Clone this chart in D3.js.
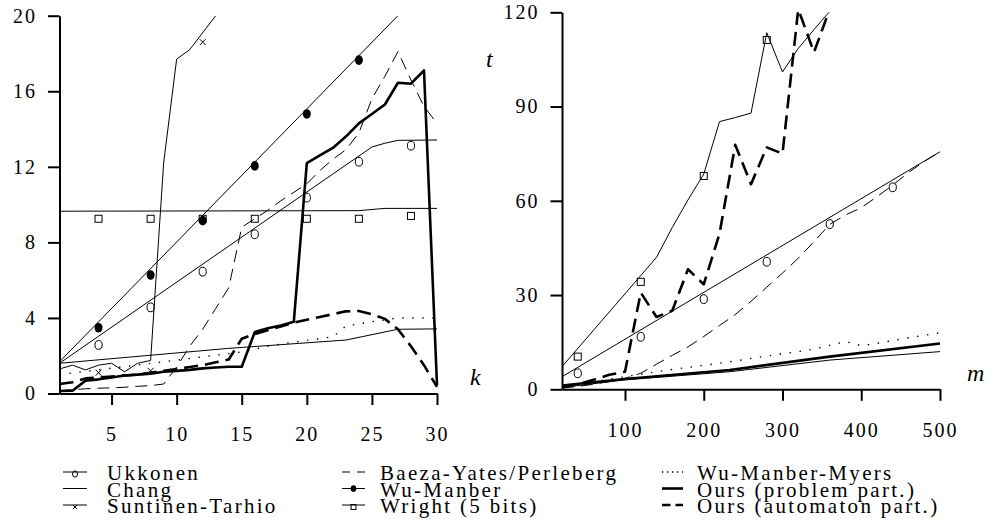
<!DOCTYPE html>
<html>
<head>
<meta charset="utf-8">
<script src="https://cdn.jsdelivr.net/npm/d3@7/dist/d3.min.js"></script>
<style>
  html,body{margin:0;padding:0;background:#fff;}
  svg{display:block;}
</style>
</head>
<body>
<svg id="chart" width="989" height="529"></svg>
<script>
// ---------------- tick labels ----------------
const kTicks = [5, 10, 15, 20, 25, 30];
const tTicksLeft = [0, 4, 8, 12, 16, 20];
const mTicks = [100, 200, 300, 400, 500];
const tTicksRight = [0, 30, 60, 90, 120];

// ---------------- left panel: t versus k ----------------
const kAll = [1,2,3,4,5,6,7,8,9,10,11,12,13,14,15,16,17,18,19,20,21,22,23,24,25,26,27,28,29,30];
const problemLeftT   = [0.13,0.15,0.68,0.75,0.85,0.95,1.0,1.05,1.15,1.2,1.25,1.33,1.38,1.42,1.42,3.25,3.45,3.6,3.8,12.2,12.6,13.0,13.6,14.3,14.8,15.3,16.45,16.4,17.1,0.45];
const automatonLeftT = [0.5,0.6,0.8,0.85,0.9,0.95,1.0,1.1,1.2,1.3,1.4,1.5,1.65,1.8,2.9,3.15,3.35,3.55,3.75,3.9,4.05,4.2,4.35,4.37,4.2,3.95,3.4,2.5,1.5,0.35];
const baezaLeftT     = [0.15,0.2,0.25,0.28,0.3,0.33,0.38,0.42,0.5,1.4,2.5,3.4,4.5,5.6,8.8,9.25,9.7,10.2,10.65,11.1,11.8,12.4,12.9,13.8,15.6,16.8,18.1,16.6,15.2,14.3];

const ukkonenLeftK = [1, 25, 26, 27, 30];
const ukkonenLeftT = [1.6, 13.05, 13.25, 13.4, 13.42];
const changLeftK = [1, 14, 23, 27, 30];
const changLeftT = [1.6, 2.39, 2.83, 3.4, 3.42];
const suntinenLeftK = [1,2,3,4,5,6,7,8,9,10,11,13];
const suntinenLeftT = [1.3,1.5,1.25,1.5,1.6,1.15,1.6,1.75,12.2,17.7,18.2,20.0];
const wuManberLeftK = [1, 27];
const wuManberLeftT = [1.68, 20.0];
const wrightLeftK = [1, 24, 26, 30];
const wrightLeftT = [9.65, 9.68, 9.8, 9.8];
const wmmLeftK = [1, 9, 15, 17, 19, 22, 23, 25, 27, 30];
const wmmLeftT = [1.0, 1.68, 2.2, 2.5, 2.72, 3.0, 3.57, 3.8, 4.0, 4.0];

const markLeftK = [4, 8, 12, 16, 20, 24, 28];
const ukkonenLeftMarks = [2.57, 4.56, 6.45, 8.43, 10.37, 12.27, 13.12];
const wuManberLeftMarkK = [4, 8, 12, 16, 20, 24];
const wuManberLeftMarks = [3.48, 6.27, 9.15, 12.05, 14.8, 17.65];
const wrightLeftMarks = [9.25, 9.25, 9.25, 9.25, 9.25, 9.25, 9.4];
const suntinenLeftMarkK = [4, 8, 12];
const suntinenLeftMarks = [1.1, 1.2, 18.6];

// ---------------- right panel: t versus m ----------------
const mAll = [20,40,60,80,100,120,140,160,180,200,220,240,260,280,300,320,340,360,380,400,420,440,460,480,500];
const baezaRightT = [0.4,0.9,1.6,2.5,3.5,5.1,8.0,10.8,13.5,16.8,20.3,23.8,28.0,32.5,37.0,41.7,47.0,52.5,55.5,57.8,61.3,65.0,69.0,72.5,75.6];
const wmmRightT   = [1.0,1.8,2.5,3.2,4.0,4.8,5.6,6.3,7.0,7.6,8.3,9.0,9.8,10.6,11.3,12.0,12.8,14.0,15.2,13.9,14.6,15.5,16.4,17.2,18.0];

const automatonRightM = [20,40,60,80,100,120,140,160,180,200,220,240,260,280,300,320,340,360];
const automatonRightT = [0.6,1.6,3.0,4.6,5.6,30.8,23.0,25.0,38.2,33.4,49.5,77.8,65.3,77.0,75.0,121.0,107.3,121.0];
const wrightRightM = [20,140,160,180,200,220,240,260,280,300,320,340,360];
const wrightRightT = [7.2,42.0,51.5,60.3,68.5,85.2,86.5,87.9,113.5,101.0,108.5,114.5,120.3];
const ukkonenRightM = [20, 500];
const ukkonenRightT = [4.0, 75.6];
const changRightM = [20, 100, 233, 360, 500];
const changRightT = [0.6, 3.0, 5.6, 9.3, 12.0];
const problemRightM = [20, 100, 233, 360, 500];
const problemRightT = [1.2, 3.3, 6.15, 10.4, 14.6];

const ukkonenRightMarkM = [40, 120, 200, 280, 360, 440];
const ukkonenRightMarks = [5.1, 16.7, 28.7, 40.6, 52.6, 64.3];
const wrightRightMarkM = [40, 120, 200, 280];
const wrightRightMarks = [10.4, 34.2, 67.9, 111.2];

// ---------------- legend ----------------
const legendNames = ["Ukkonen","Chang","Suntinen-Tarhio",
                     "Baeza-Yates/Perleberg","Wu-Manber","Wright (5 bits)",
                     "Wu-Manber-Myers","Ours (problem part.)","Ours (automaton part.)"];

// ================= drawing =================
const FONT = "'Liberation Serif', 'DejaVu Serif', 'Times New Roman', serif";
const svg = d3.select("#chart").style("font-family", FONT);
const zip = (a, b) => a.map((v, i) => [v, b[i]]);

const lineStyles = {
  thin:      {w: 1,   dash: null},
  dashThin:  {w: 1,   dash: "12,7"},
  dotted:    {w: 1.4, dash: "1.4,8.6"},
  thick:     {w: 2.6, dash: null},
  dashThick: {w: 2.6, dash: "14,7"}
};
const legendDash = {dashThin: "8,7", dotted: "1.3,3.7", dashThick: "8.5,5"};

function marker(g, type, cx, cy, s) {
  if (type === "circle") {
    g.append("ellipse").attr("cx", cx).attr("cy", cy).attr("rx", 3.6*s).attr("ry", 4.4*s)
      .attr("fill", "none").attr("stroke", "#000").attr("stroke-width", 1);
  } else if (type === "dot") {
    g.append("ellipse").attr("cx", cx).attr("cy", cy).attr("rx", 4*s).attr("ry", 4.8*s)
      .attr("fill", "#000");
  } else if (type === "square") {
    const h = 3.5*s;
    g.append("rect").attr("x", cx-h).attr("y", cy-h).attr("width", 2*h).attr("height", 2*h)
      .attr("fill", "none").attr("stroke", "#000").attr("stroke-width", 1);
  } else if (type === "cross") {
    const h = 3*s;
    g.append("path").attr("d", `M${cx-h},${cy-h}L${cx+h},${cy+h}M${cx-h},${cy+h}L${cx+h},${cy-h}`)
      .attr("stroke", "#000").attr("stroke-width", 1).attr("fill", "none");
  }
}

function panel(opt) {
  const {x, y, xTicks, yTicks, series, marks, id} = opt;
  const g = svg.append("g");
  const [x0, x1] = x.range(), [y0, y1] = y.range();

  g.append("clipPath").attr("id", id).append("rect")
    .attr("x", x0).attr("y", y1).attr("width", x1 - x0 + 2).attr("height", y0 - y1);
  const plot = g.append("g").attr("clip-path", `url(#${id})`);
  const line = d3.line().x(d => x(d[0])).y(d => y(d[1]));

  series.forEach(s => {
    const st = lineStyles[s.style];
    plot.append("path").datum(zip(s.xs, s.ys)).attr("d", line)
      .attr("fill", "none").attr("stroke", "#000").attr("stroke-width", st.w)
      .attr("stroke-linejoin", "round")
      .attr("stroke-dasharray", st.dash);
  });
  marks.forEach(m => {
    zip(m.xs, m.ys).forEach(d => marker(plot, m.type, x(d[0]), y(d[1]), 1));
  });

  const xa = g.append("g").attr("transform", `translate(0,${y0})`)
    .call(d3.axisBottom(x).tickValues(xTicks).tickSize(11.5).tickSizeOuter(0).tickPadding(22));
  const ya = g.append("g").attr("transform", `translate(${x0},0)`)
    .call(d3.axisLeft(y).tickValues(yTicks).tickSize(11.5).tickSizeOuter(0).tickPadding(11));
  [xa, ya].forEach(a => {
    a.attr("font-family", FONT).attr("font-size", 20);
    a.selectAll("path.domain").attr("stroke-width", 2);
    a.selectAll(".tick line").attr("stroke-width", 2);
    a.selectAll(".tick text").attr("fill", "#000")
      .style("font-family", FONT).style("font-size", "20px").style("letter-spacing", "2px");
  });
  return g;
}

// Left panel
const xL = d3.scaleLinear().domain([1, 30]).range([59.5, 437]);
const yL = d3.scaleLinear().domain([0, 20]).range([393.5, 15.7]);
panel({
  id: "clipL", x: xL, y: yL, xTicks: kTicks, yTicks: tTicksLeft,
  series: [
    {xs: wrightLeftK, ys: wrightLeftT, style: "thin"},
    {xs: changLeftK, ys: changLeftT, style: "thin"},
    {xs: ukkonenLeftK, ys: ukkonenLeftT, style: "thin"},
    {xs: wuManberLeftK, ys: wuManberLeftT, style: "thin"},
    {xs: suntinenLeftK, ys: suntinenLeftT, style: "thin"},
    {xs: wmmLeftK, ys: wmmLeftT, style: "dotted"},
    {xs: kAll, ys: baezaLeftT, style: "dashThin"},
    {xs: kAll, ys: automatonLeftT, style: "dashThick"},
    {xs: kAll, ys: problemLeftT, style: "thick"}
  ],
  marks: [
    {xs: markLeftK, ys: ukkonenLeftMarks, type: "circle"},
    {xs: wuManberLeftMarkK, ys: wuManberLeftMarks, type: "dot"},
    {xs: markLeftK, ys: wrightLeftMarks, type: "square"},
    {xs: suntinenLeftMarkK, ys: suntinenLeftMarks, type: "cross"}
  ]
});

// Right panel
const xR = d3.scaleLinear().domain([20, 500]).range([562, 940]);
const yR = d3.scaleLinear().domain([0, 120]).range([389.3, 12.3]);
panel({
  id: "clipR", x: xR, y: yR, xTicks: mTicks, yTicks: tTicksRight,
  series: [
    {xs: wrightRightM, ys: wrightRightT, style: "thin"},
    {xs: ukkonenRightM, ys: ukkonenRightT, style: "thin"},
    {xs: changRightM, ys: changRightT, style: "thin"},
    {xs: mAll, ys: wmmRightT, style: "dotted"},
    {xs: mAll, ys: baezaRightT, style: "dashThin"},
    {xs: problemRightM, ys: problemRightT, style: "thick"},
    {xs: automatonRightM, ys: automatonRightT, style: "dashThick"}
  ],
  marks: [
    {xs: ukkonenRightMarkM, ys: ukkonenRightMarks, type: "circle"},
    {xs: wrightRightMarkM, ys: wrightRightMarks, type: "square"}
  ]
});

// axis variable names
const axisLab = svg.append("g").style("font-family", FONT).style("font-style", "italic").style("font-size", "24px");
axisLab.append("text").attr("x", 470).attr("y", 385).text("k");
axisLab.append("text").attr("x", 486).attr("y", 66.5).text("t");
axisLab.append("text").attr("x", 967).attr("y", 381).text("m");

// legend
const legendStyle = ["thin","thin","thin","dashThin","thin","thin","dotted","thick","dashThick"];
const legendMarker = ["circle", null, "cross", null, "dot", "square", null, null, null];
const colX0 = [63, 342, 662], colX1 = [87, 365, 683], colTx = [107, 380, 697];
const rowY = [472, 488.5, 505];
const lg = svg.append("g");
legendNames.forEach((name, i) => {
  const c = Math.floor(i / 3), r = i % 3;
  const st = lineStyles[legendStyle[i]];
  lg.append("line").attr("x1", colX0[c]).attr("x2", colX1[c]).attr("y1", rowY[r]).attr("y2", rowY[r])
    .attr("stroke", "#000").attr("stroke-width", st.w)
    .attr("stroke-dasharray", legendDash[legendStyle[i]] || null);
  if (legendMarker[i]) {
    const dy = legendMarker[i] === "dot" ? 0 : 2;
    marker(lg, legendMarker[i], (colX0[c] + colX1[c]) / 2, rowY[r] + dy, 0.7);
  }
  lg.append("text").attr("x", colTx[c]).attr("y", rowY[r] + 8)
    .style("font-family", FONT).style("font-size", "21px").style("letter-spacing", "2.3px").text(name);
});
</script>
</body>
</html>
